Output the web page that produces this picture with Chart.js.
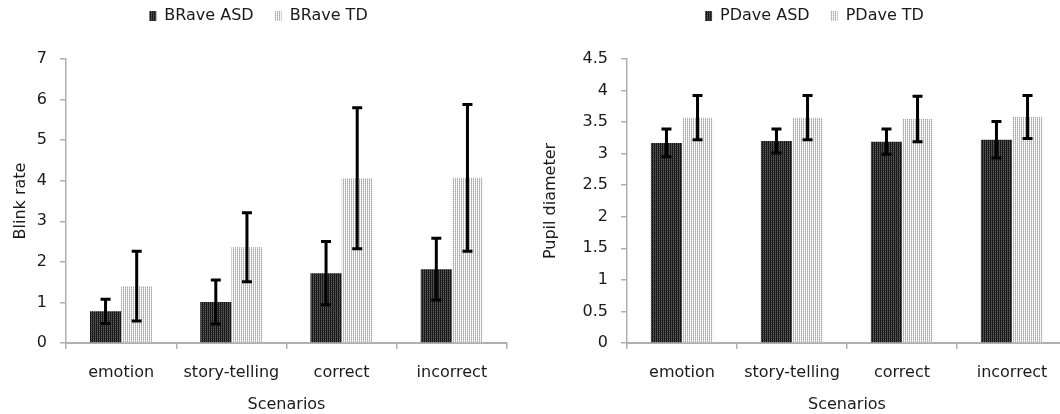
<!DOCTYPE html>
<html>
<head>
<meta charset="utf-8">
<script src="https://cdn.jsdelivr.net/npm/chart.js@4.4.1/dist/chart.umd.min.js"></script>
<style>
  html, body { margin: 0; padding: 0; background: #fff; overflow: hidden; width: 1060px; height: 414px; }
  canvas { position: absolute; }
  #blink { left: 0px; top: -13px; }
  #pupil { left: 530px; top: -13px; }
</style>
</head>
<body>
<canvas id="blink" width="516" height="427"></canvas>
<canvas id="pupil" width="542" height="427"></canvas>
<script>
const categories = ["emotion", "story-telling", "correct", "incorrect"];

// blink rate
const brAsd = [0.78, 1.01, 1.72, 1.82];
const brAsdErr = [0.3, 0.54, 0.78, 0.76];
const brTd = [1.4, 2.36, 4.06, 4.07];
const brTdErr = [0.86, 0.85, 1.74, 1.81];
const brMax = 7;
const brStep = 1;

// pupil diameter
const pdAsd = [3.17, 3.2, 3.19, 3.22];
const pdAsdErr = [0.22, 0.19, 0.2, 0.29];
const pdTd = [3.57, 3.57, 3.55, 3.58];
const pdTdErr = [0.35, 0.35, 0.36, 0.34];
const pdMax = 4.5;
const pdStep = 0.5;

const fontFamily = "'DejaVu Sans', sans-serif";
const fontSize = 16;
const textColor = "#1a1a1a";
const axisGrey = "#b0b0b0";

function makePattern(colors) {
  const c = document.createElement("canvas");
  c.width = 2;
  c.height = 2;
  const ctx = c.getContext("2d");
  colors.forEach((col, i) => {
    ctx.fillStyle = col;
    ctx.fillRect(i % 2, Math.floor(i / 2), 1, 1);
  });
  return ctx.createPattern(c, "repeat");
}

const darkFill = makePattern(["#141414", "#5a5a5a", "#1e1e1e", "#3c3c3c"]);
const lightFill = makePattern(["#f4f4f4", "#a8a8a8", "#ffffff", "#c4c4c4"]);

// error bars drawn from dataset.errors
const errorBars = {
  id: "errorBars",
  afterDatasetsDraw(chart) {
    const ctx = chart.ctx;
    const y = chart.scales.y;
    ctx.save();
    ctx.strokeStyle = "#000";
    ctx.lineWidth = 3;
    chart.data.datasets.forEach((ds, i) => {
      const meta = chart.getDatasetMeta(i);
      meta.data.forEach((bar, j) => {
        const v = ds.data[j];
        const e = ds.errors[j];
        const top = y.getPixelForValue(v + e);
        const bot = y.getPixelForValue(v - e);
        ctx.beginPath();
        ctx.moveTo(bar.x, top);
        ctx.lineTo(bar.x, bot);
        ctx.moveTo(bar.x - 5, top);
        ctx.lineTo(bar.x + 5, top);
        ctx.moveTo(bar.x - 5, bot);
        ctx.lineTo(bar.x + 5, bot);
        ctx.stroke();
      });
    });
    ctx.restore();
  },
};

// fixed legend height, plus a small sideways nudge
function legendBox(dx) {
  return {
    id: "legendBox",
    beforeInit(chart) {
      const fit = chart.legend.fit;
      chart.legend.fit = function () {
        fit.bind(chart.legend)();
        this.height = 72;
      };
    },
    afterLayout(chart) {
      chart.legend.left += dx;
      chart.legend.right += dx;
    },
  };
}

function makeChart(id, labels, asd, asdErr, td, tdErr, yMax, yStep, yTitle, yWidth, padRight, legendShift) {
  return new Chart(document.getElementById(id), {
    type: "bar",
    data: {
      labels: categories,
      datasets: [
        { label: labels[0], data: asd, errors: asdErr, backgroundColor: darkFill },
        { label: labels[1], data: td, errors: tdErr, backgroundColor: lightFill },
      ],
    },
    options: {
      responsive: false,
      animation: false,
      layout: { padding: { top: 0, right: padRight, bottom: 0, left: 0 } },
      datasets: { bar: { categoryPercentage: 0.565, barPercentage: 1.0 } },
      plugins: {
        tooltip: { enabled: false },
        legend: {
          position: "top",
          labels: {
            boxWidth: 7,
            boxHeight: 10,
            padding: 21,
            color: textColor,
            font: { family: fontFamily, size: 16 },
          },
        },
      },
      scales: {
        x: {
          afterFit(scale) { scale.height = 71; },
          grid: { display: true, drawOnChartArea: false, offset: true, tickLength: 6, color: axisGrey, lineWidth: 1.5 },
          border: { color: axisGrey, width: 2 },
          ticks: { color: textColor, padding: 14, font: { family: fontFamily, size: fontSize } },
          title: { display: true, text: "Scenarios", color: textColor, padding: { top: 0, bottom: 0 }, font: { family: fontFamily, size: fontSize } },
        },
        y: {
          min: 0,
          max: yMax,
          afterFit(scale) { scale.width = yWidth; },
          grid: { display: true, drawOnChartArea: false, tickLength: 6, color: axisGrey, lineWidth: 1.5 },
          border: { color: axisGrey, width: 1.5 },
          ticks: {
            stepSize: yStep,
            color: textColor,
            padding: 13,
            font: { family: fontFamily, size: fontSize },
            callback: (v) => String(v),
          },
          title: { display: true, text: yTitle, color: textColor, padding: { top: 11, bottom: 0 }, font: { family: fontFamily, size: fontSize } },
        },
      },
    },
    plugins: [errorBars, legendBox(legendShift)],
  });
}

makeChart("blink", ["BRave ASD", "BRave TD"], brAsd, brAsdErr, brTd, brTdErr, brMax, brStep, "Blink rate", 66, 9, 5);
makeChart("pupil", ["PDave ASD", "PDave TD"], pdAsd, pdAsdErr, pdTd, pdTdErr, pdMax, pdStep, "Pupil diameter", 97, 5, 16);
</script>
</body>
</html>
